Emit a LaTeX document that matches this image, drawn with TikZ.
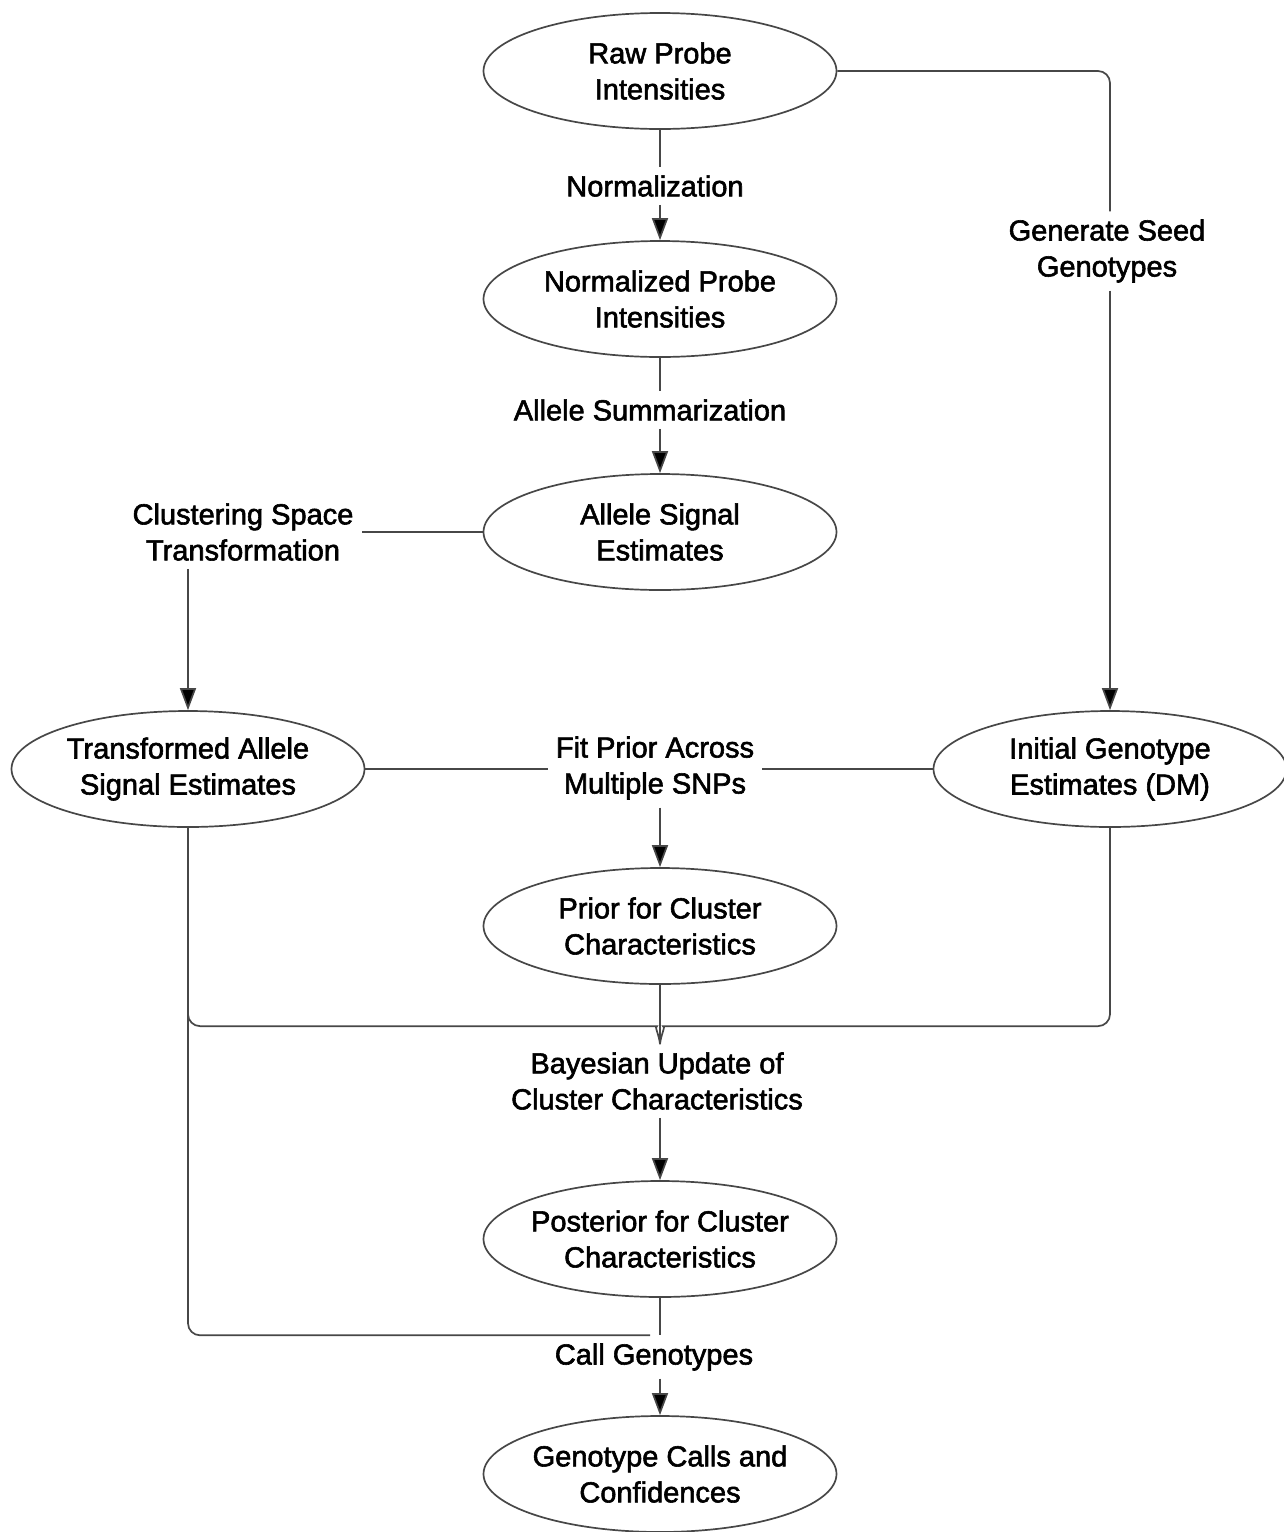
\documentclass[tikz,border=0pt]{standalone}
\usepackage{fontspec}
\setmainfont{Liberation Sans}[BoldFont={Liberation Sans}, BoldFeatures={FakeBold=2}]
\usetikzlibrary{arrows.meta, positioning, shapes.geometric, calc}

\tikzset{
  estim/.style={ellipse, draw=black!72, line width=1.7pt, minimum width=353pt,
                minimum height=116pt, inner xsep=-20pt, inner ysep=0pt, align=center,
                font=\fontsize{29}{36}\selectfont\bfseries},
  proc/.style={align=center, inner sep=8pt, font=\fontsize{29}{36}\selectfont\bfseries},
  link/.style={draw=black!72, line width=1.7pt},
  flow/.style={link, -{Triangle[length=22pt, width=16pt, fill=black]}},
}

\begin{document}
\begin{tikzpicture}[x=1pt, y=-1pt]
  \useasboundingbox (0,0) rectangle (1284,1532);

  % data at each stage
  \node[estim] (raw)    at (660,71)   {Raw Probe\\Intensities};
  \node[estim] (norm)   at (660,299)  {Normalized Probe\\Intensities};
  \node[estim] (allele) at (660,532)  {Allele Signal\\Estimates};
  \node[estim] (trans)  at (188,769)  {Transformed Allele\\Signal Estimates};
  \node[estim] (init)   at (1110,769) {Initial Genotype\\Estimates (DM)};
  \node[estim] (prior)  at (660,926)  {Prior for Cluster\\Characteristics};
  \node[estim] (post)   at (660,1239) {Posterior for Cluster\\Characteristics};
  \node[estim] (calls)  at (660,1474) {Genotype Calls and\\Confidences};

  % processing steps
  \node[proc] (normalize) at (655,186)  {Normalization};
  \node[proc] (summarize) at (650,410)  {Allele Summarization};
  \node[proc] (transform) at (243,532)  {Clustering Space\\Transformation};
  \node[proc] (seed)      at (1107,251) {Generate Seed\\Genotypes};
  \node[proc] (fitprior)  at (655,768)  {Fit Prior Across\\Multiple SNPs};
  \node[proc] (bayes)     at (657,1081) {Bayesian Update of\\Cluster Characteristics};
  \node[proc] (callgt)    at (654,1357) {Call Genotypes};

  % main column
  \draw[link] (raw.south) -- (raw.south |- normalize.north);
  \draw[flow] (raw.south |- normalize.south) -- (norm.north);
  \draw[link] (norm.south) -- (norm.south |- summarize.north);
  \draw[flow] (norm.south |- summarize.south) -- (allele.north);

  % transformation branch
  \draw[link] (allele.west) -- (transform.east |- allele.west);
  \draw[flow] (trans.north |- transform.south) -- (trans.north);

  % seed genotypes branch
  \draw[link, rounded corners=12pt] (raw.east) -| (init.north |- seed.north);
  \draw[flow] (init.north |- seed.south) -- (init.north);

  % prior fit
  \draw[link] (trans.east) -- (fitprior.west |- trans.east);
  \draw[link] (init.west) -- (fitprior.east |- init.west);
  \draw[flow] (prior.north |- fitprior.south) -- (prior.north);

  % brace joining into the bayesian update
  \coordinate (tip) at (prior.south |- bayes.north);
  \draw[link] (trans.south) [rounded corners=12pt] |- ($(tip)+(-15,-18)$)
    [sharp corners] .. controls ($(tip)+(-6,-18)$) and ($(tip)+(-1,-10)$) .. (tip);
  \draw[link] (init.south) [rounded corners=12pt] |- ($(tip)+(15,-18)$)
    [sharp corners] .. controls ($(tip)+(6,-18)$) and ($(tip)+(1,-10)$) .. (tip);
  \draw[link] (prior.south) -- (tip);
  \draw[flow] (post.north |- bayes.south) -- (post.north);

  % final calls
  \draw[link, rounded corners=12pt] (trans.south) |- ($(post.south |- callgt.north)+(-10,0)$);
  \draw[link] (post.south) -- (post.south |- callgt.north);
  \draw[flow] (calls.north |- callgt.south) -- (calls.north);
\end{tikzpicture}
\end{document}
